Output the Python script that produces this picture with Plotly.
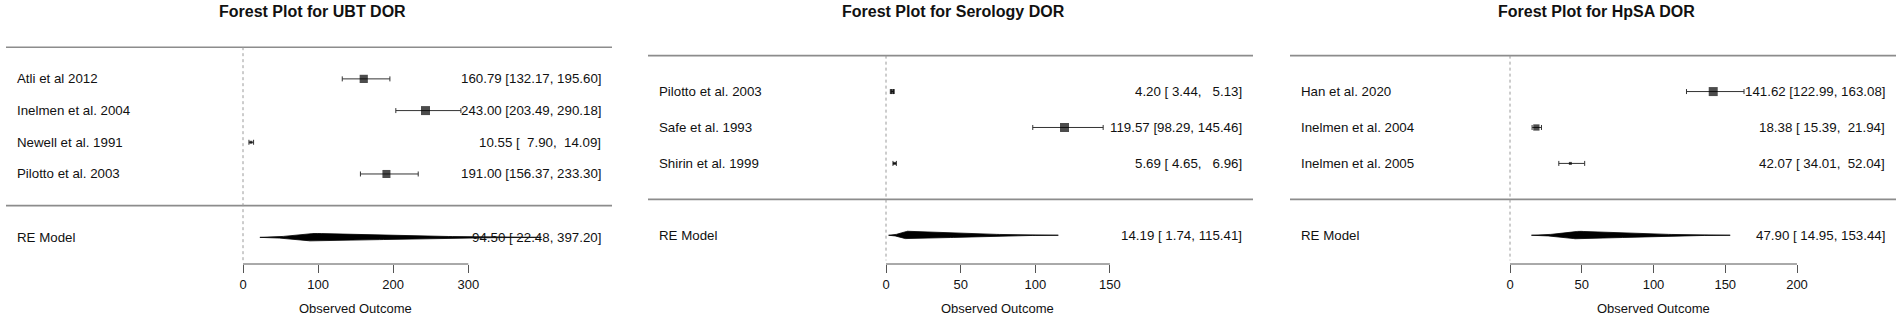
import numpy as np
import plotly.graph_objects as go

# ---------------- data ----------------
titles = ["Forest Plot for UBT DOR", "Forest Plot for Serology DOR", "Forest Plot for HpSA DOR"]
summary_label = "RE Model"
x_label = "Observed Outcome"

ubt_studies = ["Atli et al 2012", "Inelmen et al. 2004", "Newell et al. 1991", "Pilotto et al. 2003"]
ubt_est = [160.79, 243.00, 10.55, 191.00]
ubt_lo = [132.17, 203.49, 7.90, 156.37]
ubt_hi = [195.60, 290.18, 14.09, 233.30]
ubt_re = [94.50, 22.48, 397.20]          # estimate, lower, upper
ubt_ticks = [0, 100, 200, 300]

ser_studies = ["Pilotto et al. 2003", "Safe et al. 1993", "Shirin et al. 1999"]
ser_est = [4.20, 119.57, 5.69]
ser_lo = [3.44, 98.29, 4.65]
ser_hi = [5.13, 145.46, 6.96]
ser_re = [14.19, 1.74, 115.41]
ser_ticks = [0, 50, 100, 150]

hpsa_studies = ["Han et al. 2020", "Inelmen et al. 2004", "Inelmen et al. 2005"]
hpsa_est = [141.62, 18.38, 42.07]
hpsa_lo = [122.99, 15.39, 34.01]
hpsa_hi = [163.08, 21.94, 52.04]
hpsa_re = [47.90, 14.95, 153.44]
hpsa_ticks = [0, 50, 100, 150, 200]

panels_data = [
    (ubt_studies, ubt_est, ubt_lo, ubt_hi, ubt_re, ubt_ticks),
    (ser_studies, ser_est, ser_lo, ser_hi, ser_re, ser_ticks),
    (hpsa_studies, hpsa_est, hpsa_lo, hpsa_hi, hpsa_re, hpsa_ticks),
]

# ---------------- layout (pixels) ----------------
W, H = 1902, 321
MT, MB = 0, 57
PLOT_H = H - MT - MB
PANEL_W = W / 3
# per panel: pixel of x=0, pixels per unit, plot region left/right pixels
panel_geom = [
    dict(zero=243.0, ppu=0.751, reg=(6, 612)),
    dict(zero=886.0, ppu=1.493, reg=(648, 1253)),
    dict(zero=1510.0, ppu=1.435, reg=(1290, 1896)),
]
REGION_TOP_PX = -27.0   # R plot region top (above the page)
FONT = "Liberation Sans, Arial, Helvetica, sans-serif"
TXT = "#111111"
SEP_COLOR = "#8c8c8c"
AXIS_COLOR = "#555555"


def fmt_col(vals):
    s = [f"{v:.2f}" for v in vals]
    w = max(len(t) for t in s)
    return [t.rjust(w) for t in s]


fig = go.Figure()
annotations = []
shapes = []
layout_axes = {}

for i, (studies, est, lo, hi, re, ticks) in enumerate(panels_data):
    g = panel_geom[i]
    k = len(studies)
    xs = "" if i == 0 else str(i + 1)
    xref, yref = "x" + xs, "y" + xs

    # x range from pixel geometry
    px0, px1 = PANEL_W * i, PANEL_W * (i + 1)
    x_range = [(px0 - g["zero"]) / g["ppu"], (px1 - g["zero"]) / g["ppu"]]
    xlim = [(g["reg"][0] - g["zero"]) / g["ppu"], (g["reg"][1] - g["zero"]) / g["ppu"]]

    # R-like y limits: [-1.5, k+3] expanded by 4%
    yl0, yl1 = -1.5, k + 3
    rng = (yl1 - yl0) * 1.08
    ylo = yl0 - 0.04 * (yl1 - yl0)
    upp = rng / (264 - REGION_TOP_PX)
    yhi = ylo + PLOT_H * upp
    rows = [k - j for j in range(k)]

    dom = [i / 3, (i + 1) / 3]
    layout_axes["xaxis" + xs] = dict(
        domain=dom, range=x_range, anchor=yref, showgrid=False, zeroline=False,
        showline=False, ticks="outside", ticklen=8, tickwidth=1, tickcolor=AXIS_COLOR,
        tickvals=ticks, ticktext=[str(t) for t in ticks],
        tickfont=dict(family=FONT, size=13, color=TXT), fixedrange=True,
    )
    layout_axes["yaxis" + xs] = dict(
        domain=[0, 1], range=[ylo, yhi], anchor=xref, visible=False, fixedrange=True,
    )

    # separator lines
    for yy in (k + 1, 0):
        fig.add_trace(go.Scatter(x=xlim, y=[yy, yy], mode="lines", xaxis=xref, yaxis=yref,
                                 line=dict(color=SEP_COLOR, width=1.6), hoverinfo="skip",
                                 showlegend=False))
    # dotted reference line at 0
    fig.add_trace(go.Scatter(x=[0, 0], y=[k + 1, ylo + 0.1], mode="lines", xaxis=xref, yaxis=yref,
                             line=dict(color="#9a9a9a", width=1, dash="dot"), hoverinfo="skip",
                             showlegend=False))

    # square sizes from inverse-variance weights (log scale)
    vi = [((np.log(h) - np.log(l)) / (2 * 1.96)) ** 2 for l, h in zip(lo, hi)]
    vmax, vmin = max(vi), min(vi)
    psize = [0.5 + (vmax - v) / (vmax - vmin) for v in vi]
    sizes = [6.0 * p for p in psize]

    fig.add_trace(go.Scatter(
        x=est, y=rows, mode="markers", xaxis=xref, yaxis=yref,
        marker=dict(symbol="square", size=sizes, color="black", line=dict(width=0)),
        error_x=dict(type="data", symmetric=False,
                     array=[h - e for h, e in zip(hi, est)],
                     arrayminus=[e - l for e, l in zip(est, lo)],
                     color="#333333", thickness=1, width=2.5),
        hoverinfo="skip", showlegend=False))

    # summary polygon (curved diamond)
    e, l, h = re
    half = 4.0 * upp
    p = 1.7
    tl = np.linspace(0, 1, 40)
    x_left = l + (e - l) * tl
    h_left = tl ** p
    tr = np.linspace(0, 1, 60)
    x_right = e + (h - e) * tr
    h_right = (1 - tr) ** p
    px = np.concatenate([x_left, x_right[1:]])
    ph = np.concatenate([h_left, h_right[1:]])
    poly_x = np.concatenate([px, px[::-1]])
    poly_y = np.concatenate([-1 + half * ph, (-1 - half * ph)[::-1]])
    fig.add_trace(go.Scatter(x=poly_x, y=poly_y, mode="lines", fill="toself",
                             fillcolor="black", line=dict(color="black", width=0.8),
                             xaxis=xref, yaxis=yref, hoverinfo="skip", showlegend=False))

    # axis line between first and last tick
    shapes.append(dict(type="line", xref=xref, yref="paper", x0=ticks[0], x1=ticks[-1],
                       y0=0, y1=0, line=dict(color=AXIS_COLOR, width=1)))

    # text: study labels and annotations
    e_col = fmt_col(est + [re[0]])
    l_col = fmt_col(lo + [re[1]])
    h_col = fmt_col(hi + [re[2]])
    labels = studies + [summary_label]
    ys = rows + [-1]
    for lab, yy, ee, ll, hh in zip(labels, ys, e_col, l_col, h_col):
        annotations.append(dict(x=xlim[0], y=yy, xref=xref, yref=yref, text=lab,
                                xanchor="left", yanchor="middle", xshift=9, showarrow=False,
                                font=dict(family=FONT, size=13.3, color=TXT)))
        txt = f"{ee.strip()} [{ll}, {hh}]".replace(" ", "\u00a0")
        annotations.append(dict(x=xlim[1], y=yy, xref=xref, yref=yref, text=txt,
                                xanchor="right", yanchor="middle", xshift=-9, showarrow=False,
                                font=dict(family=FONT, size=13.3, color=TXT)))

    # title
    annotations.append(dict(x=(xlim[0] + xlim[1]) / 2, y=1 - 12 / PLOT_H, xref=xref, yref="paper",
                            text=f"<b>{titles[i]}</b>", xanchor="center", yanchor="middle",
                            xshift=3, showarrow=False,
                            font=dict(family=FONT, size=16, color=TXT)))
    # x axis label
    annotations.append(dict(x=(ticks[0] + ticks[-1]) / 2, y=0, xref=xref, yref="paper",
                            text=x_label, xanchor="center", yanchor="middle", yshift=-44,
                            showarrow=False, font=dict(family=FONT, size=13, color=TXT)))

fig.update_layout(
    width=W, height=H, margin=dict(l=0, r=0, t=MT, b=MB, pad=0),
    paper_bgcolor="white", plot_bgcolor="white",
    annotations=annotations, shapes=shapes, showlegend=False,
    **layout_axes,
)

fig.write_html("out.html", config={"displayModeBar": False},
               post_script="document.body.style.margin='0';document.body.style.overflow='hidden';")
